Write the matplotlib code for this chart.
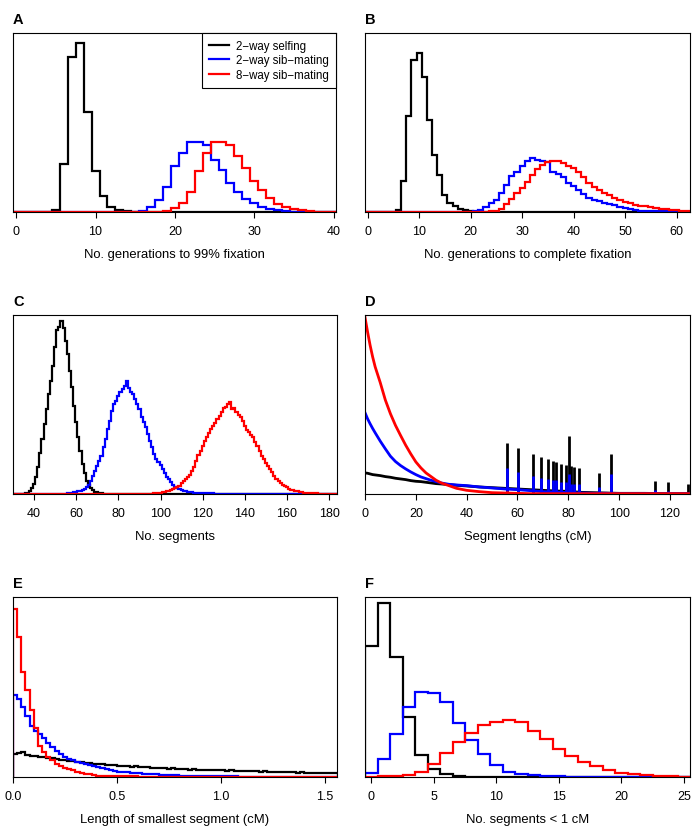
import numpy as np
import matplotlib
matplotlib.use("Agg")
import matplotlib.pyplot as plt
from matplotlib.lines import Line2D

plt.rcParams['font.family'] = ['Liberation Sans', 'DejaVu Sans']

# ---------------- data (heights in arbitrary units) ----------------
series_labels = ["2\u2212way selfing", "2\u2212way sib\u2212mating", "8\u2212way sib\u2212mating"]
series_colors = ["black", "blue", "red"]

# Panel A: generations to 99% fixation (integer bins, first bin centre given)
a_black_start = 5
a_black = [6, 143, 463, 505, 298, 122, 48, 15, 5, 2, 1]
a_blue_start = 15
a_blue = [1, 3, 14, 36, 74, 136, 176, 208, 208, 201, 156, 126, 86, 59, 39, 26, 16, 9, 6, 3, 1]
a_red_start = 19
a_red = [3, 12, 27, 60, 124, 176, 209, 209, 201, 166, 133, 94, 66, 41, 24, 16, 8, 5, 3, 1]

# Panel B: generations to complete fixation
b_black_start = 6
b_black = [5, 93, 287, 453, 475, 403, 275, 170, 110, 50, 27, 18, 10, 6, 3, 1]
b_blue_start = 21
b_blue = [2, 6, 14, 26, 36, 56, 81, 108, 121, 136, 151, 161, 154, 152, 148, 121, 114, 106, 86, 78,
          66, 54, 41, 36, 33, 28, 23, 21, 16, 11, 9, 6, 4, 4, 3, 3, 2, 2, 1, 1]
b_red_start = 24
b_red = [2, 3, 10, 24, 38, 56, 71, 91, 111, 128, 141, 150, 153, 153, 146, 138, 131, 121, 106, 88,
         76, 66, 56, 51, 41, 36, 31, 26, 22, 18, 17, 16, 12, 9, 8, 6, 5, 4, 3]

# Panel C: number of segments
c_black_start = 36
c_black = [2, 4, 8, 18, 30, 52, 82, 122, 165, 210, 255, 300, 340, 385, 440, 492, 500, 520, 498, 460,
           420, 370, 320, 265, 215, 170, 130, 90, 62, 40, 26, 17, 11, 7, 5, 3, 2, 1]
c_blue_start = 55
c_blue = [1, 2, 3, 4, 5, 6, 8, 10, 12, 15, 20, 28, 40, 55, 70, 85, 100, 115, 140, 165,
          195, 220, 250, 270, 280, 295, 305, 315, 325, 340, 318, 305, 300, 285, 270, 255, 230, 215, 200, 180,
          160, 140, 120, 105, 95, 88, 75, 62, 50, 45, 35, 28, 22, 18, 14, 12, 10, 9, 7, 6,
          5, 4, 4, 3, 3, 3, 3, 2, 2, 2, 2, 1, 1, 1, 1, 1, 1, 1, 1, 1, 1]
c_red_start = 95
c_red = [1, 1, 2, 2, 3, 4, 5, 7, 8, 10, 12, 14, 17, 21, 25, 32, 38, 45, 52, 58,
         68, 80, 100, 118, 130, 145, 158, 170, 183, 195, 205, 212, 225, 235, 245, 258, 262, 270, 275, 255,
         258, 245, 238, 230, 220, 205, 192, 185, 178, 170, 155, 145, 130, 115, 105, 92, 85, 75, 65, 55,
         45, 38, 33, 28, 23, 20, 16, 13, 11, 9, 8, 6, 5, 4, 4, 3, 3, 2, 2, 2, 1, 1, 1]

# Panel D: segment lengths (cM)
d_x = [0, 1, 2, 3, 4, 6, 8, 10, 12, 14, 16, 18, 20, 22, 24, 26, 28, 30, 33, 36,
       40, 45, 50, 55, 60, 65, 70, 75, 80, 85, 90, 95, 100, 110, 120, 128]
d_black = [63, 62, 60, 58, 57, 55, 52, 50, 47, 45, 43, 40, 38, 37, 35, 33, 31, 30, 28, 26,
           24, 21, 19, 17, 15, 13, 11, 9, 8, 5, 4, 3, 2, 2, 1, 1]
d_blue = [243, 225, 210, 196, 183, 158, 135, 113, 97, 85, 75, 66, 58, 51, 46, 41, 37, 33, 29, 27,
          25, 21, 18, 15, 13, 10, 7, 6, 4, 3, 2, 2, 1, 1, 1, 1]
d_red = [528, 485, 445, 410, 380, 333, 281, 240, 205, 175, 146, 120, 96, 78, 63, 52, 41, 33, 25, 17,
         11, 7, 4, 3, 2, 1, 1, 1, 1, 1, 1, 1, 1, 1, 1, 1]
d_spike_pos = [55.7, 60.1, 66.1, 69.2, 72.2, 74.1, 75.2, 77.2, 79.2, 80.1, 81.1, 82.2, 84.2,
               92.2, 96.7, 114.2, 119.4, 127.2]
d_spike_black = [153, 138, 120, 110, 105, 99, 95, 90, 88, 172, 84, 81, 79, 63, 121, 38, 36, 30]
d_spike_blue = [77, 66, 54, 49, 44, 41, 41, 36, 36, 61, 31, 31, 29, 20, 59, 11, 10, 6]
d_spike_red = [8, 6, 4, 3, 3, 2, 2, 2, 2, 3, 2, 2, 2, 1, 2, 1, 1, 1]

# Panel E: length of smallest segment (bins of 0.02 cM starting at 0)
e_binwidth = 0.02
e_black = [70, 72, 75, 66, 64, 63, 61, 60, 57, 56,
           54, 52, 50, 49, 47, 46, 44, 43, 42, 40,
           39, 38, 37, 35, 36, 34, 33, 33, 31, 32,
           30, 29, 29, 28, 27, 28, 26, 25, 26, 24,
           24, 23, 22, 23, 22, 21, 21, 22, 20, 21,
           20, 19, 20, 18, 19, 18, 17, 18, 17, 16,
           17, 16, 15, 16, 15, 14, 15, 14, 13, 14,
           13, 12, 13, 12, 12, 11, 12, 11]
e_blue = [245, 232, 210, 182, 153, 137, 128, 117, 102, 90,
          77, 68, 60, 55, 50, 45, 42, 39, 35, 32,
          29, 26, 23, 21, 19, 16, 15, 14, 13, 12,
          11, 10, 9, 8, 8, 7, 6, 6, 5, 5,
          4, 4, 4, 3, 3, 3, 3, 2, 2, 2,
          2, 2, 2, 2, 1, 1, 1, 1, 1, 1,
          1, 1, 1, 1, 1, 1, 1, 1, 1, 1,
          1, 1, 1, 1, 1, 1, 1, 1]
e_red = [502, 417, 315, 260, 200, 145, 92, 75, 60, 50,
         40, 33, 27, 23, 20, 15, 12, 10, 8, 6,
         4, 4, 3, 3, 3, 2, 2, 2, 2, 2,
         1, 1, 1, 1, 1, 1, 1, 1, 1, 1,
         1, 1, 1, 1, 1, 1, 1, 1, 1, 1,
         1, 1, 1, 1, 1, 1, 1, 1, 1, 1,
         1, 1, 1, 1, 1, 1, 1, 1, 1, 1,
         1, 1, 1, 1, 1, 1, 1, 1]

# Panel F: number of segments < 1 cM
f_black_start = 0
f_black = [393, 520, 360, 178, 65, 23, 8, 3, 1]
f_blue_start = 0
f_blue = [11, 53, 128, 208, 253, 250, 223, 160, 110, 70, 35, 16, 9, 5, 3, 2, 1]
f_red_start = 0
f_red = [1, 2, 3, 5, 16, 40, 73, 106, 133, 156, 165, 170, 163, 138, 115, 83, 63, 46, 33, 20,
         13, 8, 5, 3, 2, 1]

# ---------------- layout ----------------
W, H = 700, 828
fig = plt.figure(figsize=(W / 100, H / 100), dpi=100)


def rect(l, t, r, b):
    return [l / W, 1 - b / H, (r - l) / W, (b - t) / H]


LW = 1.6
TICK_FS = 9
LAB_FS = 9.4


def make_ax(box, label, xlim, ylim_top, xticks, xticklabels, xlabel):
    ax = fig.add_axes(rect(*box))
    ax.set_xlim(*xlim)
    ax.set_ylim(0, ylim_top)
    ax.set_yticks([])
    ax.set_xticks(xticks)
    ax.set_xticklabels(xticklabels, fontsize=TICK_FS)
    ax.tick_params(axis='x', direction='out', length=4, width=0.8, pad=5.5)
    for s in ax.spines.values():
        s.set_linewidth(0.8)
    ax.set_xlabel(xlabel, fontsize=LAB_FS, labelpad=7.5)
    fig.text(box[0] / W, 1 - (box[1] - 14) / H, label, fontsize=10.5,
             fontweight='bold', ha='left', va='center')
    return ax


def int_hist(ax, start, values, lo, hi, color):
    centers = np.arange(lo, hi + 1)
    v = np.zeros(len(centers))
    i0 = start - lo
    v[i0:i0 + len(values)] = values
    edges = np.arange(lo - 0.5, hi + 1.5)
    ax.stairs(v, edges, color=color, lw=LW, baseline=0)


# Panel A
axA = make_ax((13, 34, 336, 213), "A", (-0.4, 40.3), 535,
              [0, 10, 20, 30, 40], ["0", "10", "20", "30", "40"],
              "No. generations to 99% fixation")
for st, vals, col in [(a_black_start, a_black, "black"), (a_blue_start, a_blue, "blue"),
                      (a_red_start, a_red, "red")]:
    int_hist(axA, st, vals, 0, 41, col)
handles = [Line2D([], [], color=c, lw=LW) for c in series_colors]
leg = axA.legend(handles, series_labels, loc='upper right', fontsize=8.3,
                 frameon=True, fancybox=False, edgecolor='black', framealpha=1,
                 borderaxespad=0, handlelength=1.8, handletextpad=0.6,
                 labelspacing=0.22, borderpad=0.6)
leg.get_frame().set_linewidth(0.8)

# Panel B
axB = make_ax((365, 34, 690, 213), "B", (-0.5, 62.6), 535,
              [0, 10, 20, 30, 40, 50, 60], ["0", "10", "20", "30", "40", "50", "60"],
              "No. generations to complete fixation")
for st, vals, col in [(b_black_start, b_black, "black"), (b_blue_start, b_blue, "blue"),
                      (b_red_start, b_red, "red")]:
    int_hist(axB, st, vals, 0, 63, col)

# Panel C
axC = make_ax((13, 316, 337, 495), "C", (30, 183.7), 537,
              [40, 60, 80, 100, 120, 140, 160, 180],
              ["40", "60", "80", "100", "120", "140", "160", "180"],
              "No. segments")
for st, vals, col in [(c_black_start, c_black, "black"), (c_blue_start, c_blue, "blue"),
                      (c_red_start, c_red, "red")]:
    int_hist(axC, st, vals, 30, 184, col)

# Panel D
axD = make_ax((365, 316, 690, 495), "D", (0, 127.9), 535,
              [0, 20, 40, 60, 80, 100, 120], ["0", "20", "40", "60", "80", "100", "120"],
              "Segment lengths (cM)")
for curve, spikes, col in [(d_black, d_spike_black, "black"), (d_blue, d_spike_blue, "blue"),
                           (d_red, d_spike_red, "red")]:
    axD.plot(d_x, curve, color=col, lw=2.0)
    axD.vlines(d_spike_pos, 0, spikes, color=col, lw=2.0)

# Panel E
axE = make_ax((13, 598, 337, 778), "E", (0, 1.557), 538,
              [0.0, 0.5, 1.0, 1.5], ["0.0", "0.5", "1.0", "1.5"],
              "Length of smallest segment (cM)")
for vals, col in [(e_black, "black"), (e_blue, "blue"), (e_red, "red")]:
    edges = np.arange(len(vals) + 1) * e_binwidth
    axE.stairs(vals, edges, color=col, lw=LW, baseline=0)

# Panel F
axF = make_ax((365, 598, 690, 778), "F", (-0.5, 25.5), 538,
              [0, 5, 10, 15, 20, 25], ["0", "5", "10", "15", "20", "25"],
              "No. segments < 1 cM")
for st, vals, col in [(f_black_start, f_black, "black"), (f_blue_start, f_blue, "blue"),
                      (f_red_start, f_red, "red")]:
    int_hist(axF, st, vals, 0, 26, col)

fig.savefig("out.png", dpi=100)
